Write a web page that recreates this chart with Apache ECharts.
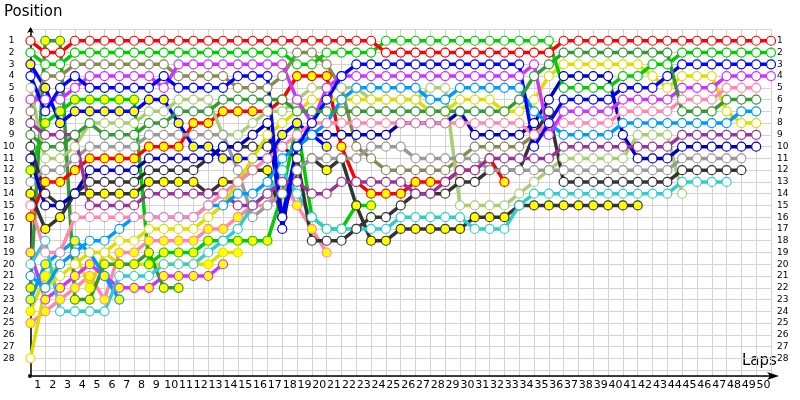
<!DOCTYPE html>
<html><head><meta charset="utf-8">
<script src="https://cdn.jsdelivr.net/npm/echarts@6/dist/echarts.min.js"></script>
<style>html,body{margin:0;padding:0;background:#fff}#c{width:800px;height:400px}</style>
</head><body><div id="c"></div>
<script>
const lapLabels = ['1','2','3','4','5','6','7','8','9','10','11','12','13','14','15','16','17','18','19','20','21','22','23','24','25','26','27','28','29','30','31','32','33','34','35','36','37','38','39','40','41','42','43','44','45','46','47','48','49','50'];
const posLabels = [1,2,3,4,5,6,7,8,9,10,11,12,13,14,15,16,17,18,19,20,21,22,23,24,25,26,27,28];

// positions per lap (lap 0 = grid), null = retired
const R  = [1,2,2,1,1,1,1,1,1,1, 1,1,1,1,1,1,1,1,1,1, 1,1,1,1,2,2,2,2,2,2, 2,2,2,2,2,2,1,1,1,1, 1,1,1,1,1,1,1,1,1,1, 1];
const G  = [2,3,3,2,2,2,2,2,2,2, 2,2,2,2,2,2,2,2,3,3, 2,2,2,2,1,1,1,1,1,1, 1,1,1,1,1,1,5,5,5,5, 4,4,3,3,2,2,2,2,2,2, 2];
const DG = [9,10,10,9,8,9,9,9,8,8, 7,7,7,6,6,6,6,6,7,7, 7,7,7,7,7,7,7,7,7,7, 7,7,7,6,4,3,2,2,2,2, 2,2,2,2,7,7,7,6,6,6, null];
const B  = [4,7,5,4,5,5,5,5,5,4, 5,5,5,5,4,4,4,17,10,8, 6,4,3,3,3,3,3,3,3,3, 3,3,3,3,10,8,6,6,6,6, 5,5,5,4,3,3,3,3,3,3, 3];
const V  = [6,6,6,5,4,4,4,4,4,5, 3,3,3,3,3,3,3,3,6,8, 5,4,4,4,4,4,4,4,4,4, 4,4,4,4,3,9,7,7,7,7, 6,6,6,6,5,5,5,4,4,4, 4];
const P  = [15,19,19,16,16,16,16,16,16,16, 16,16,15,14,13,12,11,10,9,8, 8,8,8,8,8,8,8,8,8,8, 8,8,8,8,9,8,8,8,8,8, 7,7,7,7,6,6,6,5,5,5, null];
const AZ = [21,22,20,19,18,18,17,16,16,16, 16,16,15,15,14,14,13,11,10,9, 8,6,5,5,5,5,5,6,6,5, 5,5,5,5,7,8,9,9,9,9, 8,8,8,8,8,8,8,8,7,7, null];
const Y  = [28,22,21,20,19,19,18,18,17,17, 17,17,16,15,13,11,9,8,7,6, 6,6,6,6,6,6,6,7,7,6, 6,6,7,7,6,4,3,3,3,3, 3,3,4,5,4,4,4,7,8,8, null];
const PU = [8,9,9,9,15,15,15,15,14,14, 14,14,14,14,15,15,14,13,13,14, 14,13,13,13,13,13,14,14,13,12, 12,11,11,11,11,11,10,10,10,10, 10,10,10,10,9,9,9,9,9,9, null];
const N  = [11,15,15,14,12,12,12,12,11,11, 11,11,11,10,10,9,8,16,10,9, 9,9,9,9,9,8,8,8,8,7, 9,9,9,9,8,6,4,4,4,4, 9,11,11,11,10,10,10,10,10,10, null];
const GR = [13,12,12,11,10,10,10,10,9,9, 9,9,9,9,12,16,15,14,12,11, 11,11,11,10,10,10,11,11,11,11, 11,12,12,12,12,12,12,12,12,12, 12,12,12,12,11,11,11,11,11,null, null];
const DK = [10,14,15,14,13,13,13,13,12,12, 12,12,11,10,10,10,10,10,11,18, 18,18,17,16,16,15,14,14,14,13, 13,12,12,12,9,7,13,13,13,13, 13,13,13,13,12,12,12,12,12,null, null];
const CY = [20,18,24,24,24,24,21,21,21,20, 20,20,19,18,17,15,14,12,14,16, 17,17,17,17,17,16,16,16,16,16, 17,17,17,15,14,14,14,14,14,14, 14,14,14,14,13,13,13,13,null,null, null];
const YG = [5,11,11,10,8,8,8,8,7,7, 6,6,6,9,9,8,7,7,6,5, 5,5,5,6,6,6,6,5,5,15, 15,15,15,14,13,12,11,11,11,11, 11,9,9,9,14,null,null,null,null,null, null];
const DKy= [14,17,16,14,14,14,14,14,13,13, 13,13,14,13,13,12,12,16,12,11, 12,11,15,18,18,17,17,17,17,17, 16,16,16,15,15,15,15,15,15,15, 15,15,null,null,null,null,null,null,null,null, null];
const OL = [7,4,4,3,3,3,3,3,3,3, 4,4,4,4,5,5,5,4,2,2, 3,5,10,11,12,12,12,12,12,11, 10,10,10,10,9,9,null,null,null,null, null,null,null,null,null,null,null,null,null,null, null];
const Ry = [16,13,13,12,11,11,11,11,10,10, 10,8,8,7,7,7,7,6,4,4, 4,10,13,14,14,14,13,13,13,12, 12,11,13,null,null,null,null,null,null,null, null,null,null,null,null,null,null,null,null,null, null];
const By = [3,5,8,7,7,7,7,7,6,6, 8,10,10,11,11,11,11,9,8,9, 10,null,null,null,null,null,null,null,null,null, null,null,null,null,null,null,null,null,null,null, null,null,null,null,null,null,null,null,null,null, null];
const Gy = [12,8,7,6,6,6,6,6,20,19, 19,19,18,18,18,18,18,14,8,16, 17,17,15,15,null,null,null,null,null,null, null,null,null,null,null,null,null,null,null,null, null,null,null,null,null,null,null,null,null,null, null];
const DGy= [22,1,1,23,23,20,20,20,19,22, 22,null,null,null,null,null,null,null,null,null, null,null,null,null,null,null,null,null,null,null, null,null,null,null,null,null,null,null,null,null, null,null,null,null,null,null,null,null,null,null, null];
const Py = [25,24,23,22,21,23,19,19,18,18, 18,18,17,17,16,15,15,13,15,17, 19,null,null,null,null,null,null,null,null,null, null,null,null,null,null,null,null,null,null,null, null,null,null,null,null,null,null,null,null,null, null];
const Yy = [24,21,20,19,22,19,20,20,20,20, 20,20,20,19,19,null,null,null,null,null, null,null,null,null,null,null,null,null,null,null, null,null,null,null,null,null,null,null,null,null, null,null,null,null,null,null,null,null,null,null, null];
const Vy = [19,23,22,21,20,21,22,22,22,21, 21,21,21,20,null,null,null,null,null,null, null,null,null,null,null,null,null,null,null,null, null,null,null,null,null,null,null,null,null,null, null,null,null,null,null,null,null,null,null,null, null];
const AZy= [23,20,19,18,19,21,23,null,null,null, null,null,null,null,null,null,null,null,null,null, null,null,null,null,null,null,null,null,null,null, null,null,null,null,null,null,null,null,null,null, null,null,null,null,null,null,null,null,null,null, null];

const drivers = [
  ['Py', Py, '#ff88aa', true], ['Yy', Yy, '#dddd00', true], ['Vy', Vy, '#cc33ff', true], ['AZy', AZy, '#0099ff', true],
  ['DGy', DGy, '#339933', true], ['Gy', Gy, '#00cc00', true], ['By', By, '#0000ff', true], ['Ry', Ry, '#ff0000', true],
  ['OL', OL, '#888855', false], ['DKy', DKy, '#333333', true], ['YG', YG, '#aacc77', false], ['CY', CY, '#33cccc', false],
  ['DK', DK, '#333333', false], ['GR', GR, '#999999', false], ['N', N, '#0000bb', false], ['PU', PU, '#993399', false],
  ['Y', Y, '#dddd00', false], ['AZ', AZ, '#0099ff', false], ['P', P, '#ff88aa', false], ['V', V, '#cc33ff', false],
  ['B', B, '#0000ff', false], ['DG', DG, '#339933', false], ['G', G, '#00cc00', false], ['R', R, '#ff0000', false]
];

const chart = echarts.init(document.getElementById('c'), null, {renderer: 'canvas'});
const series = drivers.map(([name, arr, col, filled]) => ({
  name, type: 'line', xAxisIndex: 0, yAxisIndex: 0,
  data: arr.map((p, i) => p == null ? null : [i, p]).filter(d => d),
  symbol: 'circle', symbolSize: 9, showSymbol: true,
  lineStyle: {color: col, width: 3.5},
  itemStyle: {color: filled ? '#ffff00' : '#ffffff', borderColor: col, borderWidth: 1.2},
  animation: false, silent: true
}));

chart.setOption({
  animation: false,
  grid: {left: 30, right: 29, top: 29, bottom: 24, containLabel: false},
  xAxis: [
    {type: 'value', min: 0, max: 50, interval: 1, position: 'bottom',
     axisLine: {show: true, onZero: false, lineStyle: {color: '#000', width: 1.5}, symbol: ['none', 'arrow'], symbolSize: [6, 12], symbolOffset: [0, 8]},
     axisTick: {show: false}, axisLabel: {show: false},
     splitLine: {show: true, lineStyle: {color: '#d3d3d3', width: 1}}},
    {type: 'category', data: lapLabels, boundaryGap: true, position: 'bottom',
     axisLine: {show: false, onZero: false}, axisTick: {show: false},
     axisLabel: {show: true, interval: 0, margin: 4, color: '#000', fontFamily: 'DejaVu Sans', fontSize: 11},
     splitLine: {show: false}}
  ],
  yAxis: [
    {type: 'value', inverse: true, min: 0, max: 29.5, interval: 1, position: 'left',
     axisLine: {show: true, onZero: false, lineStyle: {color: '#000', width: 1.5}, symbol: ['none', 'arrow'], symbolSize: [5, 6], symbolOffset: [0, 2]},
     axisTick: {show: false},
     axisLabel: {show: true, margin: 16, color: '#000', fontFamily: 'DejaVu Sans', fontSize: 9,
       formatter: v => posLabels.indexOf(v) >= 0 ? String(v) : ''},
     splitLine: {show: true, lineStyle: {color: '#d3d3d3', width: 1}}},
    {type: 'value', inverse: true, min: 0, max: 29.5, interval: 1, position: 'right',
     axisLine: {show: false}, axisTick: {show: false},
     axisLabel: {show: true, margin: 6, color: '#000', fontFamily: 'DejaVu Sans', fontSize: 9,
       formatter: v => posLabels.indexOf(v) >= 0 ? String(v) : ''},
     splitLine: {show: false}}
  ],
  graphic: [
    {type: 'text', left: 4, top: 5, style: {text: 'Position', font: '15px "DejaVu Sans"', fill: '#000'}},
    {type: 'text', left: 742, top: 354, style: {text: 'Laps', font: '15px "DejaVu Sans"', fill: '#000'}},
    {type: 'circle', shape: {cx: 30, cy: 376, r: 2}, style: {fill: '#000'}}
  ],
  series
});
</script>
</body></html>
